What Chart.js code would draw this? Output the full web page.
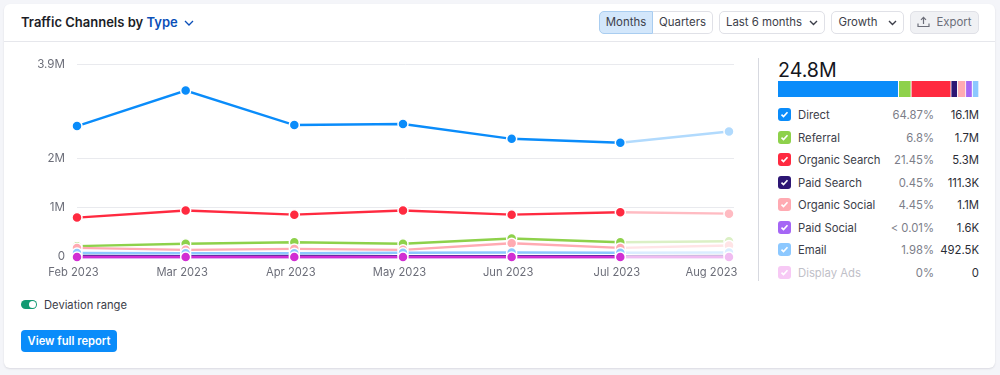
<!DOCTYPE html>
<html>
<head>
<meta charset="utf-8">
<title>Traffic Channels by Type</title>
<script src="https://cdn.jsdelivr.net/npm/chart.js@4/dist/chart.umd.min.js"></script>
<style>
    html, body { margin: 0; padding: 0; width: 1000px; height: 375px; overflow: hidden; background: #f4f5f9; }
    body { font-family: Inter, sans-serif; color: #1b1d26; position: relative; }
    .card { position: absolute; left: 4px; top: 4px; width: 991px; height: 364px; background: #fff; border-radius: 6px; box-shadow: 0 1px 2px rgba(30, 35, 60, 0.12); }
    .header-line { position: absolute; left: 4px; width: 991px; top: 41px; height: 1px; background: #e6e7ec; }
    .title { position: absolute; left: 21px; top: 13px; font-size: 13px; font-weight: 600; line-height: 18px; white-space: nowrap; }
    .title span { color: #0b4fb8; }
    .title svg { margin-left: 3px; vertical-align: 1px; }
    .btn { position: absolute; top: 11px; height: 23px; box-sizing: border-box; border: 1px solid #e0e1e7; border-radius: 5px; font-size: 11.4px; line-height: 21px; color: #3c3e49; text-align: center; white-space: nowrap; background: #fff; }
    .btn svg { vertical-align: 0; margin-left: 7px; }
    #chart-wrap { position: absolute; left: 20px; top: 46px; width: 736px; height: 234px; }
    #strip-wrap { position: absolute; left: 778px; top: 81px; width: 201px; height: 16px; }
    .divider { position: absolute; left: 758px; top: 58px; width: 1px; height: 223px; background: #d7d9e0; }
    .total { position: absolute; left: 778px; top: 58px; font-size: 19.6px; line-height: 24px; color: #14161d; }
    .row { position: absolute; left: 778px; width: 201px; height: 16px; font-size: 11.3px; line-height: 16px; white-space: nowrap; }
    .box { position: absolute; left: 0; top: 1px; width: 13px; height: 13px; border-radius: 3px; }
    .box svg { position: absolute; left: 2px; top: 2px; }
    .name { position: absolute; left: 20px; color: #3c3e49; }
    .pct { position: absolute; right: 45px; color: #7b7d88; }
    .val { position: absolute; right: 0; color: #2a2c35; }
    .toggle { position: absolute; left: 21px; top: 300px; width: 16px; height: 9px; border-radius: 5px; background: #129a72; }
    .toggle i { position: absolute; right: 1px; top: 1px; width: 7px; height: 7px; border-radius: 50%; background: #fff; }
    .toggle-label { position: absolute; left: 44px; top: 297px; font-size: 11.2px; line-height: 16px; color: #3c3e49; }
    .report { position: absolute; left: 21px; top: 330px; width: 96px; height: 22px; border-radius: 4px; background: #0a8cfa; color: #fff; font-size: 11.2px; font-weight: 600; line-height: 22px; text-align: center; }
</style>
</head>
<body>
<div class="card"></div>
<div class="header-line"></div>
<div class="title">Traffic Channels by <span>Type</span> <svg width="10" height="6" viewBox="0 0 10 6"><path d="M1 1l4 4 4-4" fill="none" stroke="#0b4fb8" stroke-width="1.3"/></svg></div>

<div class="btn" style="left:599px;width:54px;background:#d3e7fb;border-color:#a9cdf0;border-radius:5px 0 0 5px;">Months</div>
<div class="btn" style="left:653px;width:60px;border-left:0;border-radius:0 5px 5px 0;">Quarters</div>
<div class="btn" style="left:719px;width:106px;">Last 6 months<svg width="9" height="6" viewBox="0 0 9 6"><path d="M1 1l3.5 3.5L8 1" fill="none" stroke="#3c3e49" stroke-width="1.4"/></svg></div>
<div class="btn" style="left:831px;width:73px;">Growth<svg width="9" height="6" viewBox="0 0 9 6" style="margin-left:10px"><path d="M1 1l3.5 3.5L8 1" fill="none" stroke="#3c3e49" stroke-width="1.4"/></svg></div>
<div class="btn" style="left:910px;width:69px;background:#f0f1f4;color:#6c6e79;"><svg width="13" height="12" viewBox="0 0 13 12" style="margin:0 6px 0 0;vertical-align:-2px"><path d="M6.5 8V1.5M4 3.8l2.5-2.5L9 3.8M1 7.5v3h11v-3" fill="none" stroke="#6c6e79" stroke-width="1.2"/></svg>Export</div>

<div id="chart-wrap"><canvas id="traffic-chart"></canvas></div>

<div class="divider"></div>
<div class="total">24.8M</div>
<div id="strip-wrap"><canvas id="share-strip"></canvas></div>
<div id="legend"></div>

<div class="toggle"><i></i></div>
<div class="toggle-label">Deviation range</div>
<div class="report">View full report</div>

<script>
const months = ['Feb 2023', 'Mar 2023', 'Apr 2023', 'May 2023', 'Jun 2023', 'Jul 2023', 'Aug 2023'];
const yTicks = [0, 1000000, 2000000, 3900000];
const yTickLabels = ['0', '1M', '2M', '3.9M'];

const channels = ['Direct', 'Referral', 'Organic Search', 'Paid Search', 'Organic Social', 'Paid Social', 'Email', 'Display Ads'];
const colors = ['#0a8cfa', '#8ed14b', '#ff2a40', '#2d1674', '#ffaab2', '#a566f5', '#8cc8ff', '#d12ed3'];
const shares = [64.87, 6.8, 21.45, 0.45, 4.45, 0.01, 1.98, 0];
const shareLabels = ['64.87%', '6.8%', '21.45%', '0.45%', '4.45%', '< 0.01%', '1.98%', '0%'];
const totalLabels = ['16.1M', '1.7M', '5.3M', '111.3K', '1.1M', '1.6K', '492.5K', '0'];

const direct = [2660000, 3380000, 2680000, 2700000, 2400000, 2320000, 2550000];
const referral = [220000, 270000, 300000, 270000, 375000, 300000, 320000];
const organicSearch = [800000, 945000, 860000, 945000, 860000, 910000, 880000];
const paidSearch = [20000, 18000, 19000, 18000, 18000, 18000, 19000];
const organicSocial = [185000, 145000, 165000, 145000, 280000, 185000, 235000];
const paidSocial = [300, 250, 280, 250, 260, 260, 270];
const email = [80000, 75000, 75000, 85000, 90000, 85000, 90000];
const displayAds = [0, 0, 0, 0, 0, 0, 0];

const seriesValues = [direct, referral, organicSearch, paidSearch, organicSocial, paidSocial, email, displayAds];

// last month is incomplete, drawn washed out
function fade(hex, amount = 0.68) {
    const n = parseInt(hex.slice(1), 16);
    const mix = c => Math.round(c + (255 - c) * amount);
    return `rgb(${mix(n >> 16)}, ${mix((n >> 8) & 255)}, ${mix(n & 255)})`;
}

const lastIndex = months.length - 1;

// the last month label sits further left so it stays inside the plot
const nudgeLastLabel = {
    id: 'nudgeLastLabel',
    afterUpdate(chart) {
        const items = chart.scales.x.getLabelItems();
        items[lastIndex].options.translation[0] -= 14;
    }
};

new Chart(document.getElementById('traffic-chart'), {
    type: 'line',
    plugins: [nudgeLastLabel],
    data: {
        datasets: channels.map((name, i) => ({
            label: name,
            data: seriesValues[i].map((v, m) => ({ x: m, y: v })),
            borderColor: colors[i],
            borderWidth: 2.4,
            tension: 0,
            clip: false,
            order: channels.length - i,
            segment: { borderColor: ctx => ctx.p1DataIndex === lastIndex ? fade(colors[i]) : colors[i] },
            pointRadius: 5,
            pointBorderWidth: 1.5,
            pointBorderColor: '#fff',
            pointBackgroundColor: seriesValues[i].map((v, m) => m === lastIndex ? fade(colors[i]) : colors[i])
        }))
    },
    options: {
        responsive: true,
        maintainAspectRatio: false,
        animation: false,
        layout: { padding: { top: 6, right: 0, bottom: 0, left: 0 } },
        plugins: { legend: { display: false }, tooltip: { enabled: false } },
        scales: {
            x: {
                type: 'linear',
                bounds: 'data',
                min: 0,
                max: 6.046,
                afterBuildTicks: axis => { axis.ticks = months.map((m, i) => ({ value: i })); },
                afterFit: axis => { axis.height = 23; },
                grid: { display: false },
                border: { display: false },
                ticks: {
                    autoSkip: false,
                    maxRotation: 0,
                    includeBounds: false,
                    padding: 1,
                    labelOffset: -3.5,
                    color: '#6c6e79',
                    font: { family: 'Inter', size: 11.2 },
                    callback: value => months[value]
                }
            },
            y: {
                min: 0,
                max: 3900000,
                afterBuildTicks: axis => { axis.ticks = yTicks.map(v => ({ value: v })); },
                afterFit: axis => { axis.width = 57; },
                grid: { color: '#e9eaee', lineWidth: 1, drawTicks: false },
                border: { display: false },
                ticks: {
                    padding: 12,
                    color: '#6c6e79',
                    font: { family: 'Inter', size: 11.6 },
                    callback: value => yTickLabels[yTicks.indexOf(value)]
                }
            }
        }
    }
});

// share strip, tiny channels keep a minimum visible width
const stripValues = channels.slice(0, 7).map((name, i) => Math.max(shares[i], 3.5));

new Chart(document.getElementById('share-strip'), {
    type: 'bar',
    data: {
        labels: ['Share'],
        datasets: stripValues.map((v, i) => ({
            label: channels[i],
            data: [v],
            backgroundColor: colors[i],
            borderColor: '#fff',
            borderWidth: { right: 1 },
            borderSkipped: false,
            barPercentage: 1,
            categoryPercentage: 1
        }))
    },
    options: {
        indexAxis: 'y',
        responsive: true,
        maintainAspectRatio: false,
        animation: false,
        layout: { padding: 0 },
        plugins: { legend: { display: false }, tooltip: { enabled: false } },
        scales: {
            x: { stacked: true, display: false, min: 0, max: stripValues.reduce((s, v) => s + v, 0) },
            y: { stacked: true, display: false }
        }
    }
});

const legend = document.getElementById('legend');
channels.forEach((name, i) => {
    const muted = name === 'Display Ads';
    const row = document.createElement('div');
    row.className = 'row';
    row.style.top = `${107 + i * 22.5}px`;
    row.innerHTML = `
        <div class="box" style="background:${muted ? '#f7c9f5' : colors[i]}">
            <svg width="9" height="9" viewBox="0 0 9 9"><path d="M1.5 4.6l2 2 4-4.4" fill="none" stroke="#fff" stroke-width="1.6"/></svg>
        </div>
        <span class="name" ${muted ? 'style="color:#bfc0c8"' : ''}>${name}</span>
        <span class="pct">${shareLabels[i].replace('<', '&lt;')}</span>
        <span class="val">${totalLabels[i]}</span>
    `;
    legend.appendChild(row);
});
</script>
</body>
</html>
